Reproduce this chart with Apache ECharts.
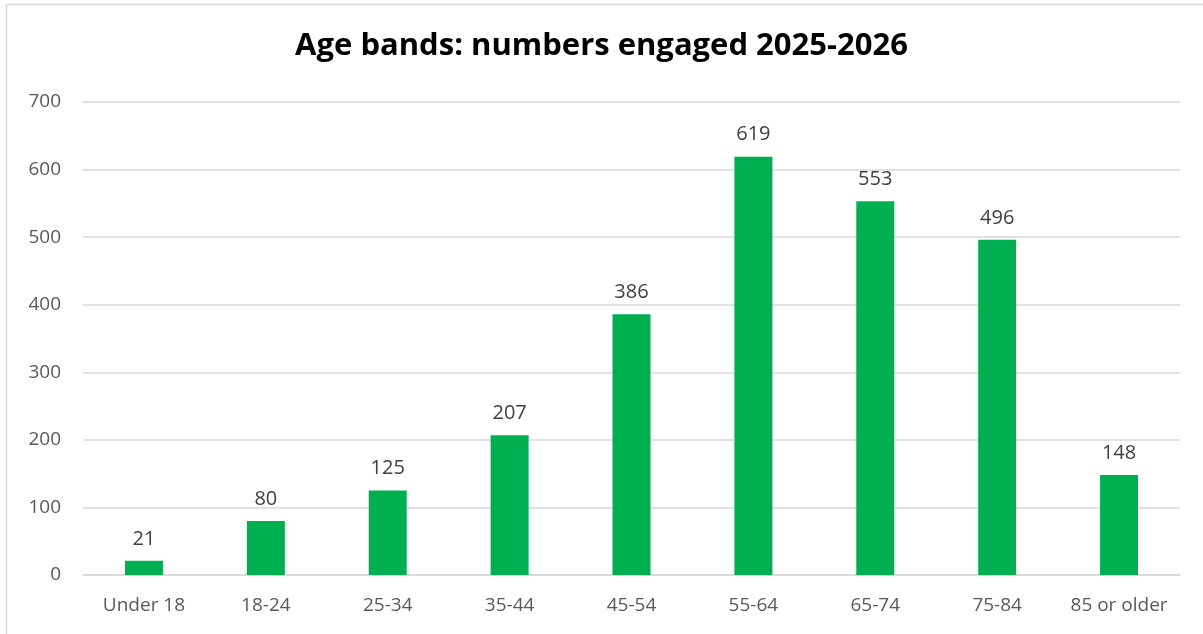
<!DOCTYPE html>
<html><head><meta charset="utf-8">
<script src="https://cdn.jsdelivr.net/npm/echarts@6/dist/echarts.min.js"></script>
<style>html,body{margin:0;padding:0;background:#fff}#c{width:1203px;height:634px}</style>
</head><body><div id="c"></div>
<script>
const categories = ["Under 18","18-24","25-34","35-44","45-54","55-64","65-74","75-84","85 or older"];
const values = [21,80,125,207,386,619,553,496,148];
const titleText = "Age bands: numbers engaged 2025-2026";
const chart = echarts.init(document.getElementById('c'), null, {renderer:'canvas'});
chart.setOption({
  animation:false,
  backgroundColor:'#fff',
  title:{text:titleText,left:'center',top:26,textStyle:{fontFamily:'Open Sans',fontWeight:'bold',fontSize:31,color:'#000'}},
  graphic:[{type:'rect',shape:{x:6.5,y:4.5,width:1220,height:660},style:{fill:'none',stroke:'#d9d9d9',lineWidth:1.5},silent:true}],
  grid:{left:83,right:23,top:102,bottom:59,containLabel:false},
  xAxis:{type:'category',data:categories,axisTick:{show:false},axisLine:{lineStyle:{color:'#d9d9d9',width:1.5}},
    axisLabel:{interval:0,color:'#595959',fontFamily:'Open Sans',fontSize:19,margin:21}},
  yAxis:{type:'value',min:0,max:700,interval:100,axisLine:{show:false},axisTick:{show:false},
    splitLine:{lineStyle:{color:'#d9d9d9',width:1.5}},
    axisLabel:{color:'#595959',fontFamily:'Open Sans',fontSize:19,margin:22}},
  series:[{type:'bar',data:values,barWidth:38,itemStyle:{color:'#00B050'},
    label:{show:true,position:'top',distance:12,color:'#404040',fontFamily:'Open Sans',fontSize:20}}]
});
</script></body></html>
